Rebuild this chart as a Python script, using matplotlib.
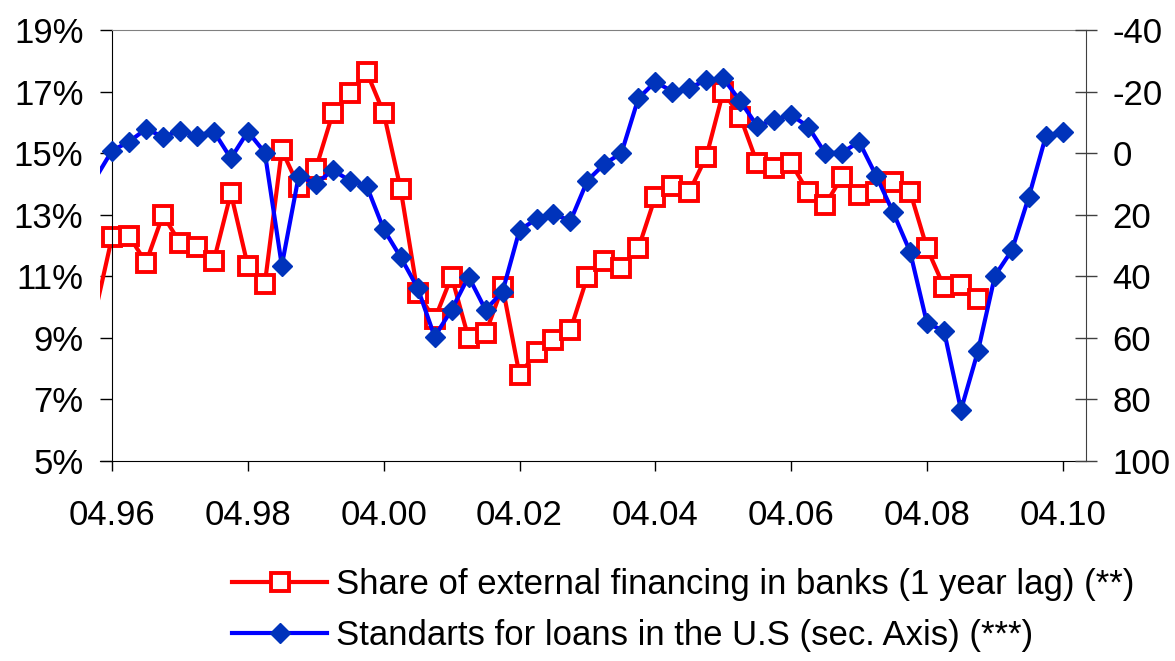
import numpy as np
import matplotlib
matplotlib.use("Agg")
import matplotlib.pyplot as plt

plt.rcParams['font.family'] = ['Liberation Sans', 'DejaVu Sans']
plt.rcParams['axes.unicode_minus'] = False

# quarterly values, first entry is the quarter before 04.96 (only the line enters the plot)
share_external = [9.8,
                  12.27, 12.32, 11.44, 12.99, 12.09, 11.96, 11.51, 13.70,
                  11.34, 10.75, 15.10, 13.91, 14.49, 16.29, 16.96, 17.63,
                  16.31, 13.83, 10.45, 9.60, 10.99, 8.99, 9.15, 10.66,
                  7.80, 8.53, 8.93, 9.26, 10.99, 11.51, 11.26, 11.91,
                  13.59, 13.94, 13.75, 14.89, 17.00, 16.18, 14.67, 14.51,
                  14.67, 13.73, 13.32, 14.24, 13.64, 13.75, 14.07, 13.75,
                  11.91, 10.66, 10.72, 10.25]
us_standards = [8.4,
                -0.8, -3.7, -7.85, -5.35, -7.2, -5.7, -7.0, 1.7,
                -7.0, -0.2, 36.5, 7.3, 10.0, 5.5, 8.9, 10.7,
                24.7, 33.8, 43.8, 59.6, 50.9, 40.1, 50.9, 45.0,
                25.0, 21.4, 19.8, 22.0, 8.9, 3.5, 0.0, -17.8,
                -23.2, -20.0, -21.1, -23.8, -24.3, -16.9, -8.8, -10.8,
                -12.4, -8.6, 0.0, -0.2, -3.7, 7.3, 19.2, 32.0,
                55.3, 57.7, 83.4, 64.3, 39.8, 31.5, 14.1, -5.6, -7.0]
x_labels = ['04.96', '04.98', '04.00', '04.02', '04.04', '04.06', '04.08', '04.10']
left_ticks = [5, 7, 9, 11, 13, 15, 17, 19]
right_ticks = [-40, -20, 0, 20, 40, 60, 80, 100]
label_red = 'Share of external financing in banks (1 year lag) (**)'
label_blue = 'Standarts for loans in the U.S (sec. Axis) (***)'

W, H = 1175, 661
fs = 25
fig = plt.figure(figsize=(W / 100, H / 100), dpi=100)
ax = fig.add_axes([100 / W, 200 / H, 986 / W, 431 / H])
ax2 = ax.twinx()

qpx = 16.98  # pixels per quarter
x_lo, x_hi = -12 / qpx, 986 / qpx - 12 / qpx

xr = np.arange(len(share_external)) - 1
xb = np.arange(len(us_standards)) - 1

red = '#ff0000'
ax.plot(xr[:2], share_external[:2], color=red, lw=3)
l1, = ax.plot(xr[1:], share_external[1:], color=red, lw=3,
              marker='s', ms=12.5, mfc='white', mec=red, mew=2.8)

blue = '#0000ff'
ax2.plot(xb[:2], us_standards[:2], color=blue, lw=3)
l2, = ax2.plot(xb[1:], us_standards[1:], color=blue, lw=3,
               marker='D', ms=10, mfc='#0033bb', mec='#0033bb')

ax.set_xlim(x_lo, x_hi)
ax.set_ylim(5, 19)
ax2.set_ylim(100, -40)

ax.set_xticks(np.arange(0, 57, 8))
ax.set_xticklabels(x_labels)
ax.set_yticks(left_ticks)
ax.set_yticklabels([f'{v}%' for v in left_ticks])
ax2.set_yticks(right_ticks)

for a in (ax, ax2):
    for s in a.spines.values():
        s.set_visible(False)

ax.spines['left'].set_visible(True)
ax.spines['left'].set_position(('data', 0))
ax.spines['left'].set_color('black')
ax.spines['bottom'].set_visible(True)
ax.spines['bottom'].set_color('black')
ax.spines['top'].set_visible(True)
ax.spines['top'].set_bounds(0, x_hi)
ax.spines['top'].set_color('#808080')
ax2.spines['right'].set_visible(True)
ax2.spines['right'].set_color('#404040')

ax.tick_params(axis='x', direction='out', length=7.5, width=1, pad=20,
               labelsize=fs)
ax.tick_params(axis='y', direction='out', length=8.6, width=1, pad=12,
               labelsize=fs)
ax2.tick_params(axis='y', direction='inout', length=16, width=1, pad=11,
                labelsize=fs, color='#404040')

fig.legend([l1, l2], [label_red, label_blue], loc='center left',
           bbox_to_anchor=(232 / W, 1 - 610 / H), frameon=False, fontsize=fs,
           handlelength=2.75, handletextpad=0.25, labelspacing=0.5,
           borderpad=0, borderaxespad=0)

fig.savefig('out.png', dpi=100)
